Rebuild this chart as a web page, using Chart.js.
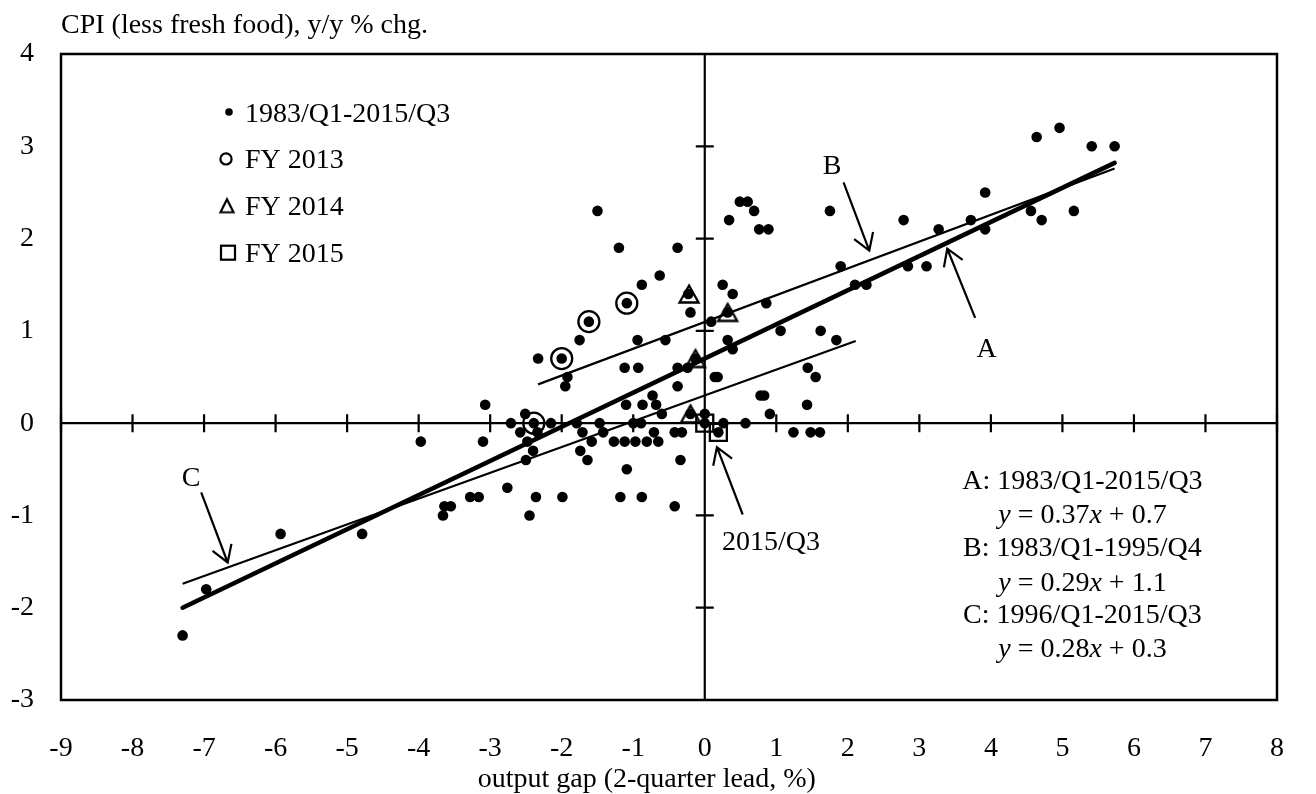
<!DOCTYPE html>
<html>
<head>
<meta charset="utf-8">
<script src="https://cdn.jsdelivr.net/npm/chart.js@4.4.1/dist/chart.umd.min.js"></script>
<style>
  html, body { margin: 0; padding: 0; background: #fff; }
</style>
</head>
<body>
<canvas id="gapChart" width="1316" height="794"></canvas>
<script>
// quarterly observations 1983/Q1-2015/Q3: [output gap (2-quarter lead, %), CPI y/y %]
const quarterly = [
  [4.96, 3.2], [4.64, 3.1], [5.41, 3.0], [5.73, 3.0], [3.92, 2.5],
  [0.49, 2.4], [0.60, 2.4],
  [-1.50, 2.3], [0.69, 2.3], [1.75, 2.3], [4.56, 2.3], [5.16, 2.3],
  [0.34, 2.2], [2.78, 2.2], [3.72, 2.2], [4.71, 2.2],
  [0.76, 2.1], [0.89, 2.1], [3.27, 2.1], [3.92, 2.1],
  [-1.20, 1.9], [-0.38, 1.9],
  [1.90, 1.7], [2.84, 1.7], [3.10, 1.7],
  [-0.63, 1.6],
  [-0.88, 1.5], [0.25, 1.5], [2.10, 1.5], [2.26, 1.5],
  [-0.23, 1.4], [0.39, 1.4],
  [-1.09, 1.3], [0.86, 1.3],
  [-0.20, 1.2], [0.32, 1.2],
  [-1.62, 1.1], [0.09, 1.1],
  [1.06, 1.0], [1.62, 1.0],
  [-1.75, 0.9], [-0.94, 0.9], [-0.55, 0.9], [0.32, 0.9], [1.84, 0.9],
  [0.39, 0.8],
  [-2.33, 0.7], [-2.00, 0.7], [-0.13, 0.7],
  [-1.12, 0.6], [-0.93, 0.6], [-0.38, 0.6], [-0.24, 0.6], [1.44, 0.6],
  [-1.92, 0.5], [0.14, 0.5], [0.18, 0.5], [1.55, 0.5],
  [-1.95, 0.4], [-0.38, 0.4],
  [-0.73, 0.3], [0.78, 0.3], [0.83, 0.3],
  [-3.07, 0.2], [-1.10, 0.2], [-0.87, 0.2], [-0.68, 0.2], [1.43, 0.2],
  [-2.51, 0.1], [-0.60, 0.1], [-0.20, 0.1], [0.00, 0.1], [0.91, 0.1],
  [-2.71, 0.0], [-2.39, 0.0], [-2.15, 0.0], [-1.79, 0.0], [-1.47, 0.0],
  [-1.00, 0.0], [-0.89, 0.0], [0.00, 0.0], [0.26, 0.0], [0.57, 0.0],
  [-2.58, -0.1], [-2.34, -0.1], [-1.71, -0.1], [-1.42, -0.1], [-0.71, -0.1],
  [-0.42, -0.1], [-0.32, -0.1], [0.19, -0.1], [1.24, -0.1], [1.48, -0.1], [1.61, -0.1],
  [-3.97, -0.2], [-3.10, -0.2], [-2.48, -0.2], [-1.58, -0.2], [-1.27, -0.2],
  [-1.12, -0.2], [-0.97, -0.2], [-0.81, -0.2], [-0.65, -0.2],
  [-2.40, -0.3], [-1.74, -0.3],
  [-2.50, -0.4], [-1.64, -0.4], [-0.34, -0.4],
  [-1.09, -0.5],
  [-2.76, -0.7],
  [-3.28, -0.8], [-3.16, -0.8], [-2.36, -0.8], [-1.99, -0.8], [-1.18, -0.8], [-0.88, -0.8],
  [-3.64, -0.9], [-3.55, -0.9], [-0.42, -0.9],
  [-3.66, -1.0], [-2.45, -1.0],
  [-5.93, -1.2], [-4.79, -1.2],
  [-6.97, -1.8],
  [-7.30, -2.3]
];

const fy2013 = [[-2.39, 0.0], [-2.00, 0.7], [-1.62, 1.1], [-1.09, 1.3]];
const fy2014 = [[-0.22, 1.4], [0.32, 1.2], [-0.13, 0.7], [-0.20, 0.1]];
const fy2015 = [[0.00, 0.0], [0.19, -0.1]];

// fitted lines, end points
const fitA = [[-7.30, -2.00], [5.73, 2.82]];
const fitB = [[-2.33, 0.42], [5.73, 2.76]];
const fitC = [[-7.30, -1.74], [2.11, 0.89]];

const xTicks = [-9, 8];   // min / max of output gap axis
const yTicks = [-3, 4];   // min / max of CPI axis

const serif = "'Liberation Serif', 'Times New Roman', serif";
const fontSize = 28;

const toXY = (p) => ({ x: p[0], y: p[1] });

// triangle centred on its bounding box (like the original markers)
function triangleMark(w, h, lw) {
  const c = document.createElement("canvas");
  c.width = Math.ceil(w + lw * 2 + 2);
  c.height = Math.ceil(h + lw * 2 + 2);
  const g = c.getContext("2d");
  const cx = c.width / 2, cy = c.height / 2;
  g.beginPath();
  g.moveTo(cx, cy - h / 2);
  g.lineTo(cx + w / 2, cy + h / 2);
  g.lineTo(cx - w / 2, cy + h / 2);
  g.closePath();
  g.lineWidth = lw;
  g.strokeStyle = "#000";
  g.stroke();
  return c;
}

const triBig = triangleMark(19, 17, 2.3);
const triSmall = triangleMark(13, 13, 2.2);

// arrows and labels, placed in data units
const arrows = [
  { from: [3.78, 1.14], to: [3.39, 1.89] },
  { from: [1.94, 2.61], to: [2.30, 1.87] },
  { from: [-7.04, -0.75], to: [-6.67, -1.51] },
  { from: [0.53, -0.99], to: [0.17, -0.26] }
];
const labels = [
  { text: "A", at: [3.94, 0.72], align: "center" },
  { text: "B", at: [1.78, 2.70], align: "center" },
  { text: "C", at: [-7.18, -0.68], align: "center" },
  { text: "2015/Q3", at: [0.24, -1.38], align: "left" }
];
const fitNotes = [
  { runs: [["A: 1983/Q1-2015/Q3", false]], at: [5.28, -0.715] },
  { runs: [["y", true], [" = 0.37", false], ["x", true], [" + 0.7", false]], at: [5.28, -1.077] },
  { runs: [["B: 1983/Q1-1995/Q4", false]], at: [5.28, -1.438] },
  { runs: [["y", true], [" = 0.29", false], ["x", true], [" + 1.1", false]], at: [5.28, -1.817] },
  { runs: [["C: 1996/Q1-2015/Q3", false]], at: [5.28, -2.167] },
  { runs: [["y", true], [" = 0.28", false], ["x", true], [" + 0.3", false]], at: [5.28, -2.53] }
];

function drawRuns(ctx, runs, cx, base) {
  const fonts = runs.map(r => (r[1] ? "italic " : "") + fontSize + "px " + serif);
  let total = 0;
  const widths = runs.map((r, i) => {
    ctx.font = fonts[i];
    const w = ctx.measureText(r[0]).width;
    total += w;
    return w;
  });
  let x = cx - total / 2;
  ctx.textAlign = "left";
  runs.forEach((r, i) => {
    ctx.font = fonts[i];
    ctx.fillText(r[0], x, base);
    x += widths[i];
  });
}

function drawArrow(ctx, x1, y1, x2, y2) {
  const ang = Math.atan2(y2 - y1, x2 - x1);
  const len = 19, spread = 0.56;
  ctx.beginPath();
  ctx.moveTo(x1, y1);
  ctx.lineTo(x2, y2);
  ctx.moveTo(x2 - len * Math.cos(ang - spread), y2 - len * Math.sin(ang - spread));
  ctx.lineTo(x2, y2);
  ctx.lineTo(x2 - len * Math.cos(ang + spread), y2 - len * Math.sin(ang + spread));
  ctx.stroke();
}

const framePlugin = {
  id: "frame",
  beforeDatasetsDraw(chart) {
    const { ctx, chartArea: a, scales: { x, y } } = chart;
    const x0 = x.getPixelForValue(0), y0 = y.getPixelForValue(0);
    ctx.save();
    ctx.strokeStyle = "#000";
    ctx.lineWidth = 2.5;
    ctx.strokeRect(a.left, a.top, a.right - a.left, a.bottom - a.top);
    ctx.lineWidth = 2.2;
    ctx.beginPath();
    ctx.moveTo(a.left, y0); ctx.lineTo(a.right, y0);
    ctx.moveTo(x0, a.top); ctx.lineTo(x0, a.bottom);
    x.ticks.forEach(t => {
      const p = x.getPixelForValue(t.value);
      ctx.moveTo(p, y0 - 9); ctx.lineTo(p, y0 + 9);
    });
    y.ticks.forEach(t => {
      const p = y.getPixelForValue(t.value);
      ctx.moveTo(x0 - 9, p); ctx.lineTo(x0 + 9, p);
    });
    ctx.stroke();
    ctx.restore();
  },
  afterDatasetsDraw(chart) {
    const { ctx, chartArea: a, scales: { x, y } } = chart;
    const px = v => x.getPixelForValue(v), py = v => y.getPixelForValue(v);
    ctx.save();
    ctx.fillStyle = "#000";
    ctx.strokeStyle = "#000";
    ctx.lineWidth = 2.2;
    ctx.textBaseline = "alphabetic";
    ctx.font = fontSize + "px " + serif;

    arrows.forEach(r => drawArrow(ctx, px(r.from[0]), py(r.from[1]), px(r.to[0]), py(r.to[1])));
    labels.forEach(l => {
      ctx.textAlign = l.align;
      ctx.fillText(l.text, px(l.at[0]), py(l.at[1]));
    });
    fitNotes.forEach(n => drawRuns(ctx, n.runs, px(n.at[0]), py(n.at[1])));

    // axis titles
    ctx.font = fontSize + "px " + serif;
    ctx.textAlign = "left";
    ctx.fillText("CPI (less fresh food), y/y % chg.", a.left, a.top - 21);
    ctx.textAlign = "center";
    ctx.fillText("output gap (2-quarter lead, %)", px(-0.81), 787);

    // legend
    const lx = a.left + 166, tx = a.left + 184;
    const rows = [121.5, 168.4, 215.3, 262.2];
    const names = chart.data.datasets.slice(0, 4).map(d => d.label);
    ctx.textAlign = "left";
    names.forEach((n, i) => ctx.fillText(n, tx, rows[i]));
    const mid = i => rows[i] - 9.5;
    ctx.beginPath();
    ctx.arc(lx + 2, mid(0), 3.8, 0, Math.PI * 2);
    ctx.fill();
    ctx.beginPath();
    ctx.arc(lx - 1, mid(1), 5.6, 0, Math.PI * 2);
    ctx.stroke();
    ctx.drawImage(triSmall, lx - triSmall.width / 2, mid(2) - triSmall.height / 2);
    ctx.strokeRect(lx + 1 - 7, mid(3) - 7, 14, 14);
    ctx.restore();
  }
};

const ctx = document.getElementById("gapChart");

new Chart(ctx.getContext("2d"), {
  type: "scatter",
  data: {
    datasets: [
      {
        label: "1983/Q1-2015/Q3",
        data: quarterly.map(toXY),
        pointRadius: 5.3,
        backgroundColor: "#000",
        borderColor: "#000",
        borderWidth: 0
      },
      {
        label: "FY 2013",
        data: fy2013.map(toXY),
        pointStyle: "circle",
        pointRadius: 10.5,
        backgroundColor: "rgba(0,0,0,0)",
        borderColor: "#000",
        borderWidth: 2.3
      },
      {
        label: "FY 2014",
        data: fy2014.map(toXY),
        pointStyle: triBig,
        pointRadius: 10
      },
      {
        label: "FY 2015",
        data: fy2015.map(toXY),
        pointStyle: "rect",
        pointRadius: 12,
        backgroundColor: "rgba(0,0,0,0)",
        borderColor: "#000",
        borderWidth: 2.3
      },
      {
        label: "A",
        data: fitA.map(toXY),
        showLine: true,
        pointRadius: 0,
        borderColor: "#000",
        borderWidth: 4.5,
        borderCapStyle: "round"
      },
      {
        label: "B",
        data: fitB.map(toXY),
        showLine: true,
        pointRadius: 0,
        borderColor: "#000",
        borderWidth: 2.2
      },
      {
        label: "C",
        data: fitC.map(toXY),
        showLine: true,
        pointRadius: 0,
        borderColor: "#000",
        borderWidth: 2.2
      }
    ]
  },
  options: {
    responsive: false,
    animation: false,
    events: [],
    devicePixelRatio: 1,
    layout: { padding: { left: 0, right: 6, top: 54, bottom: 0 } },
    plugins: {
      legend: { display: false },
      tooltip: { enabled: false }
    },
    scales: {
      x: {
        type: "linear",
        min: xTicks[0],
        max: xTicks[1],
        ticks: {
          stepSize: 1,
          color: "#000",
          maxRotation: 0,
          autoSkip: false,
          padding: 32,
          font: { family: serif, size: fontSize }
        },
        grid: { display: false, drawTicks: false },
        border: { display: false },
        afterFit: (s) => { s.height = 94; }
      },
      y: {
        type: "linear",
        min: yTicks[0],
        max: yTicks[1],
        ticks: {
          stepSize: 1,
          color: "#000",
          padding: 27,
          font: { family: serif, size: fontSize }
        },
        grid: { display: false, drawTicks: false },
        border: { display: false },
        afterFit: (s) => { s.width = 61; }
      }
    }
  },
  plugins: [framePlugin]
});
</script>
</body>
</html>
